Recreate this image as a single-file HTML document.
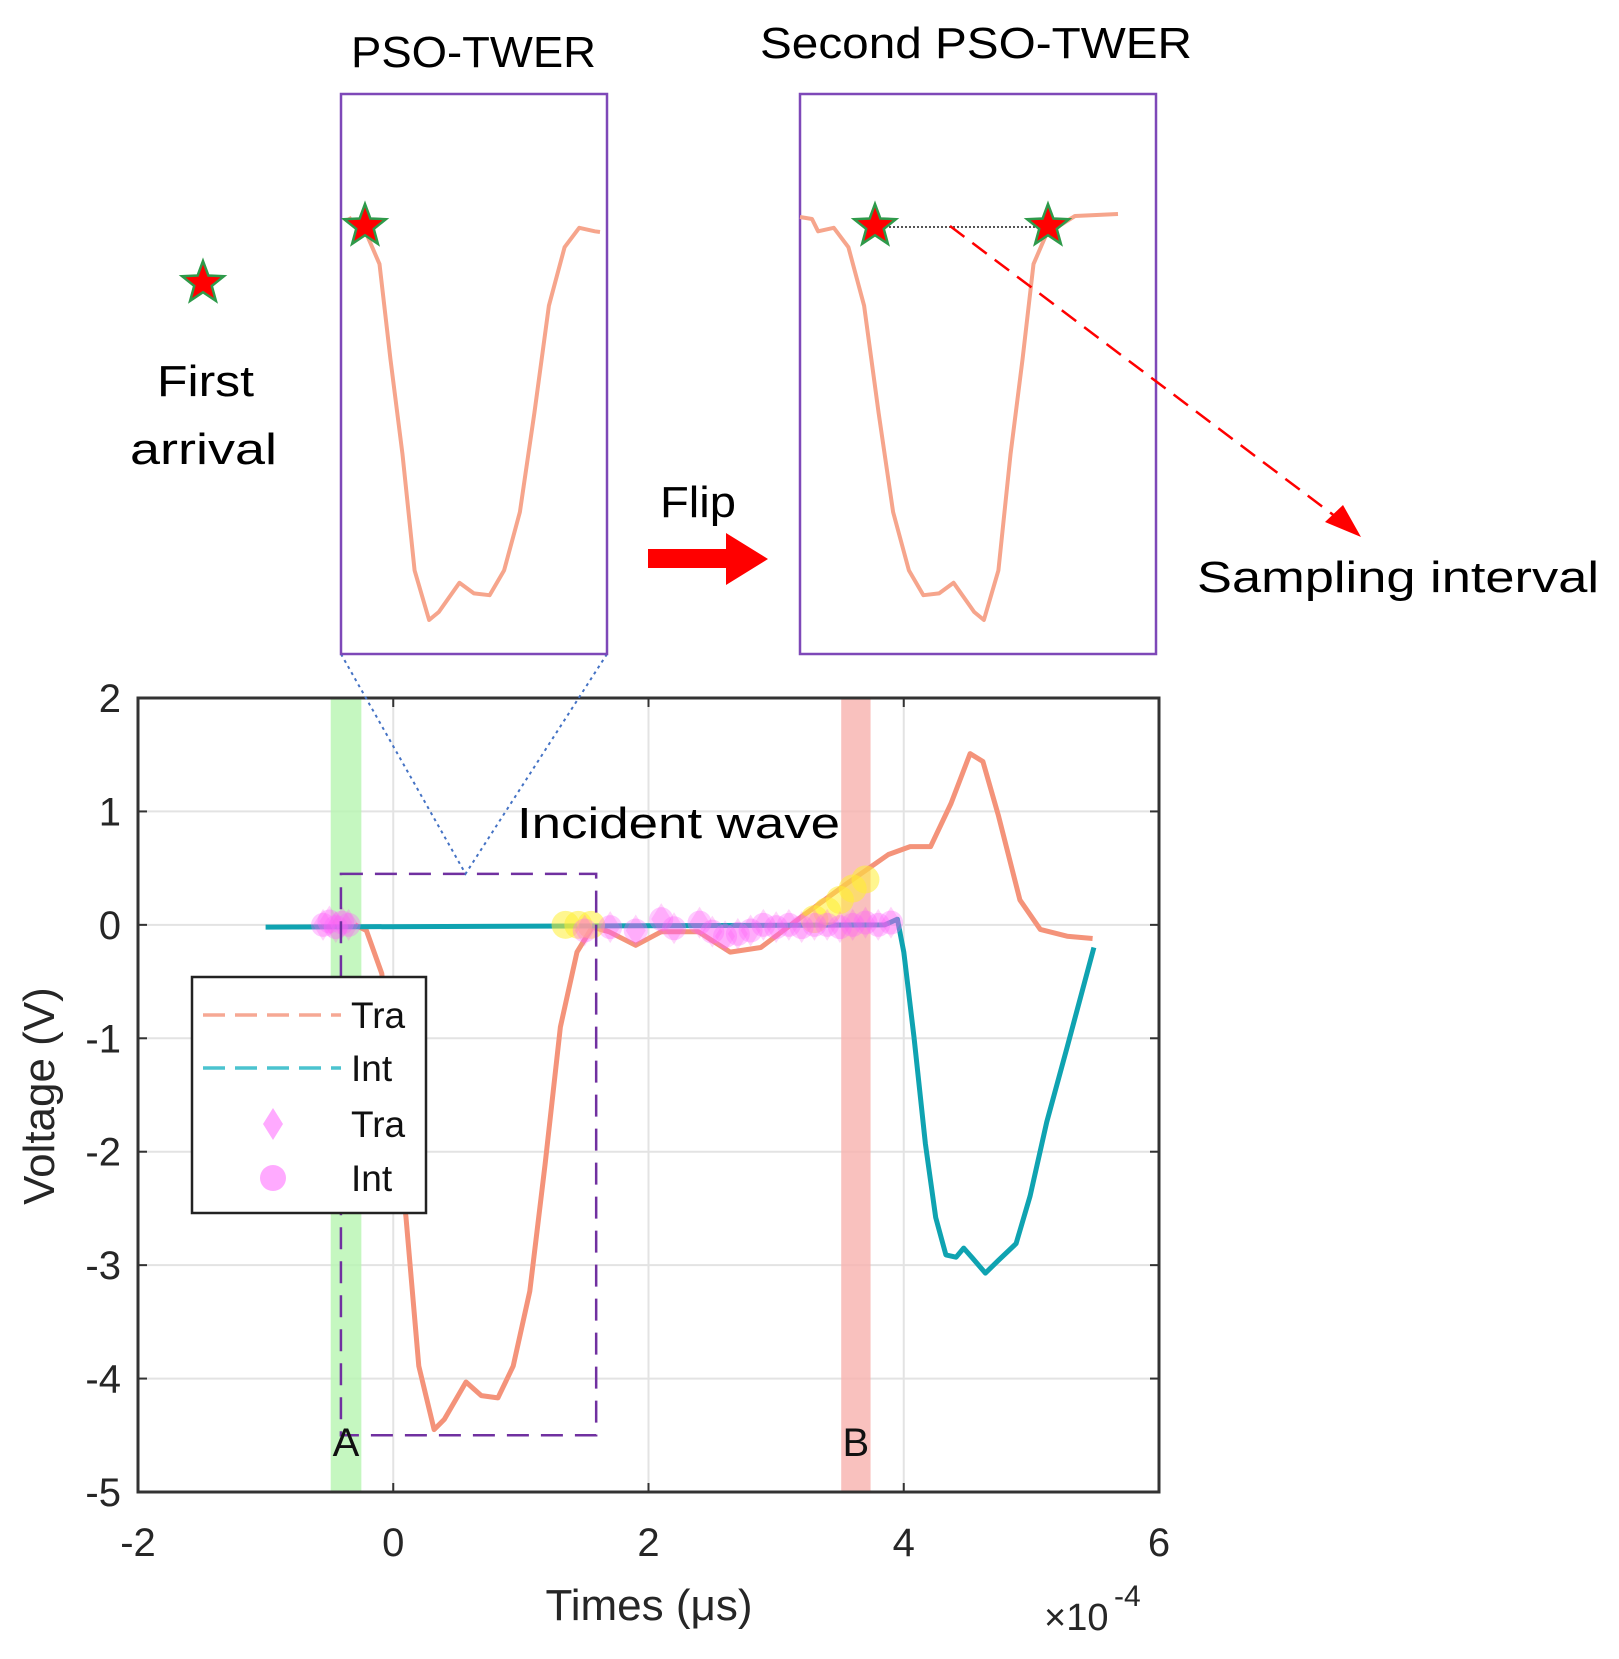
<!DOCTYPE html>
<html><head><meta charset="utf-8"><style>
html,body{margin:0;padding:0;background:#fff}
svg{display:block}
text{font-family:"Liberation Sans",sans-serif}
</style></head><body>
<svg id="chart" width="1619" height="1659" viewBox="0 0 1619 1659" xmlns="http://www.w3.org/2000/svg">
<g id="plot-layer"></g>
<g id="ann-layer"></g>
</svg>
<script>
// ===== Data =====
const xTicks = [-2, 0, 2, 4, 6];
const yTicks = [2, 1, 0, -1, -2, -3, -4, -5];
const traX = [-0.3,-0.21,-0.09,0.0,0.1,0.2,0.32,0.4,0.57,0.69,0.82,0.94,1.07,1.19,1.31,1.44,1.56,1.69,1.9,2.1,2.39,2.64,2.88,3.21,3.55,3.88,4.05,4.21,4.37,4.52,4.62,4.74,4.91,5.07,5.28,5.48];
const traY = [0,-0.05,-0.43,-1.5,-2.58,-3.89,-4.45,-4.36,-4.03,-4.15,-4.17,-3.89,-3.23,-2.11,-0.9,-0.24,-0.02,-0.06,-0.18,-0.06,-0.06,-0.24,-0.2,0.08,0.36,0.62,0.69,0.69,1.07,1.51,1.44,0.97,0.22,-0.04,-0.1,-0.12];
const intX = [-1.0,3.85,3.95,4.0,4.08,4.17,4.25,4.33,4.41,4.47,4.54,4.64,4.74,4.88,4.99,5.12,5.28,5.49];
const intY = [-0.02,0.0,0.05,-0.24,-0.99,-1.93,-2.58,-2.91,-2.93,-2.85,-2.94,-3.07,-2.96,-2.81,-2.39,-1.74,-1.08,-0.2];
const markX = [-0.55,-0.5,-0.45,-0.4,-0.35,1.5,1.7,1.9,2.1,2.2,2.4,2.5,2.6,2.7,2.8,2.9,3.0,3.1,3.2,3.3,3.4,3.5,3.6,3.7,3.8,3.9];
const markY = [0.0,0.03,-0.02,0.02,0.0,-0.05,-0.02,-0.05,0.05,-0.03,0.02,-0.06,-0.1,-0.08,-0.05,0.0,-0.02,0.0,-0.02,0.0,0.0,-0.02,0.0,0.02,0.0,0.02];
const yelX = [1.35,1.45,1.55,3.3,3.4,3.5,3.6,3.7];
const yelY = [0.0,0.0,0.0,0.05,0.12,0.22,0.32,0.4];
const bandA = [-0.49,-0.25];
const bandB = [3.51,3.74];
const zoomBox = [-0.41,1.59,0.45,-4.5];

const X0=138,X1=1159,Y0=698,Y1=1492;
const sx=v=>X0+(v+2)/8*(X1-X0);
const sy=v=>Y0+(2-v)/7*(Y1-Y0);
const NS="http://www.w3.org/2000/svg";
const P=document.getElementById('plot-layer');
const A=document.getElementById('ann-layer');
function mk(tag,attrs,parent,txt){const e=document.createElementNS(NS,tag);for(const k in attrs)e.setAttribute(k,attrs[k]);if(txt!==undefined)e.textContent=txt;(parent||P).appendChild(e);return e;}

let e;
e=mk('rect',{x:X0,y:Y0,width:X1-X0,height:Y1-Y0,fill:'#fff'});


xTicks.forEach(t=>{
  e=mk('line',{x1:sx(t),x2:sx(t),y1:Y0,y2:Y1,stroke:'#e3e3e3','stroke-width':2});
  
  
  e=mk('text',{x:sx(t),y:1556,'font-size':40,fill:'#262626','text-anchor':'middle'},P,String(t));
  
  
});
yTicks.forEach(t=>{
  e=mk('line',{x1:X0,x2:X1,y1:sy(t),y2:sy(t),stroke:'#e3e3e3','stroke-width':2});
  
  
  e=mk('text',{x:121,y:sy(t)+14,'font-size':40,fill:'#262626','text-anchor':'end'},P,String(t));
  
  
});
e=mk('rect',{x:sx(bandA[0]),y:Y0,width:sx(bandA[1])-sx(bandA[0]),height:Y1-Y0,fill:'#b6f5b0',opacity:0.8});


e=mk('rect',{x:sx(bandB[0]),y:Y0,width:sx(bandB[1])-sx(bandB[0]),height:Y1-Y0,fill:'#f7b2ae',opacity:0.8});


e=mk('rect',{x:X0,y:Y0,width:X1-X0,height:Y1-Y0,fill:'none',stroke:'#333','stroke-width':3});


xTicks.forEach(t=>{mk('line',{x1:sx(t),x2:sx(t),y1:Y1,y2:Y1-9,stroke:'#333','stroke-width':2});mk('line',{x1:sx(t),x2:sx(t),y1:Y0,y2:Y0+9,stroke:'#333','stroke-width':2});});
yTicks.forEach(t=>{mk('line',{x1:X0,x2:X0+9,y1:sy(t),y2:sy(t),stroke:'#333','stroke-width':2});mk('line',{x1:X1,x2:X1-9,y1:sy(t),y2:sy(t),stroke:'#333','stroke-width':2});});
function pts(xs,ys){return xs.map((x,i)=>sx(x).toFixed(1)+','+sy(ys[i]).toFixed(1)).join(' ');}
e=mk('polyline',{points:pts(traX,traY),fill:'none',stroke:'#f4937a','stroke-width':5,'stroke-linejoin':'round'});


e=mk('polyline',{points:pts(intX,intY),fill:'none',stroke:'#0fa3b1','stroke-width':5,'stroke-linejoin':'round'});


yelX.forEach((x,i)=>{
  e=mk('circle',{cx:sx(x),cy:sy(yelY[i]),r:14,fill:'#ffee33',opacity:0.55});
  
  
});
markX.forEach((x,i)=>{
  e=mk('circle',{cx:sx(x),cy:sy(markY[i]),r:12,fill:'#ff66ff',opacity:0.35});
  
  
  e=mk('path',{d:`M${sx(x)},${sy(markY[i])-16} l10,16 l-10,16 l-10,-16z`,fill:'#ff55ee',opacity:0.25});
  
  
});
e=mk('rect',{x:sx(zoomBox[0]),y:sy(zoomBox[2]),width:sx(zoomBox[1])-sx(zoomBox[0]),height:sy(zoomBox[3])-sy(zoomBox[2]),fill:'none',stroke:'#7030a0','stroke-width':2.5,'stroke-dasharray':'22 12'});


const apx=(sx(zoomBox[0])+sx(zoomBox[1]))/2-3, apy=sy(zoomBox[2]);
e=mk('polyline',{points:`341,654 ${apx},${apy} 607,654`,fill:'none',stroke:'#4472c4','stroke-width':2,'stroke-dasharray':'3 4'});


e=mk('text',{x:(sx(bandA[0])+sx(bandA[1]))/2,y:1456,'font-size':40,fill:'#111','text-anchor':'middle'},P,'A');


e=mk('text',{x:(sx(bandB[0])+sx(bandB[1]))/2,y:1456,'font-size':40,fill:'#111','text-anchor':'middle'},P,'B');


const lg=mk('g',{});


mk('rect',{x:192,y:977,width:234,height:236,fill:'#fff',stroke:'#222','stroke-width':2.5},lg);
const legNames=['Tra','Int','Tra','Int'];
const legY=[1015,1068,1124,1178];
legNames.forEach((n,i)=>{
  const y=legY[i];
  if(i===0){e=mk('line',{x1:203,x2:341,y1:y,y2:y,stroke:'#f4937a','stroke-width':3.5,'stroke-dasharray':'22 10',opacity:0.8},lg);}
  if(i===1){e=mk('line',{x1:203,x2:341,y1:y,y2:y,stroke:'#1fb5c4','stroke-width':3.5,'stroke-dasharray':'22 10',opacity:0.8},lg);}
  if(i===2){e=mk('path',{d:`M273,${y-16} l10,16 l-10,16 l-10,-16z`,fill:'#ffaaff'},lg);}
  if(i===3){e=mk('circle',{cx:273,cy:y,r:13,fill:'#ffaaff'},lg);}
  
  
  e=mk('text',{x:351,y:y+13,'font-size':37,fill:'#111'},lg,n);
  
  
});
e=mk('text',{x:649,y:1620,'font-size':44,fill:'#262626','text-anchor':'middle'},P,'Times (μs)');


e=mk('text',{x:1044,y:1630,'font-size':38,fill:'#262626'},P,'×10');


e=mk('text',{x:1114,y:1606,'font-size':30,fill:'#262626'},P,'-4');


e=mk('text',{x:54,y:1096,'font-size':44,fill:'#262626','text-anchor':'middle',transform:'rotate(-90 54 1096)'},P,'Voltage (V)');



function star(cx,cy,r,name){
  let d='';for(let k=0;k<10;k++){const rr=k%2?r*0.42:r;const a=-Math.PI/2+k*Math.PI/5;d+=(k?'L':'M')+(cx+rr*Math.cos(a)).toFixed(1)+','+(cy+rr*Math.sin(a)).toFixed(1);}
  const s=mk('path',{d:d+'Z',fill:'#ff0000',stroke:'#2e9a4a','stroke-width':2.5},A);
  
  
}
const insetY=v=>226+(-v)/4.45*394;
const in1X=x=>365+(x+0.21)*121;
e=mk('rect',{x:341,y:94,width:266,height:560,fill:'#fff',stroke:'#7e48b8','stroke-width':2.5},A);


const inIdx=traX.map((x,i)=>i).filter(i=>traX[i]>=-0.3&&traX[i]<=1.7);
let p1=inIdx.map(i=>in1X(traX[i]).toFixed(1)+','+insetY(traY[i]).toFixed(1)).join(' ');
e=mk('polyline',{points:'349,217 '+p1+' 600,232',fill:'none',stroke:'#f6a58c','stroke-width':4,'stroke-linejoin':'round'},A);


e=mk('rect',{x:800,y:94,width:356,height:560,fill:'#fff',stroke:'#7e48b8','stroke-width':2.5},A);


let p2=inIdx.slice().reverse().map(i=>(1413-in1X(traX[i])).toFixed(1)+','+insetY(traY[i]).toFixed(1)).join(' ');
e=mk('polyline',{points:'800,217 812,219 '+p2+' 1075,216 1118,214',fill:'none',stroke:'#f6a58c','stroke-width':4,'stroke-linejoin':'round'},A);


e=mk('line',{x1:885,y1:227,x2:1040,y2:227,stroke:'#555','stroke-width':2,'stroke-dasharray':'2 2'},A);


star(365,226,22,'first-arrival-star');
star(875,226,22,'start-star');
star(1048,226,22,'end-star');
star(203,283,22,'legend-star');
e=mk('line',{x1:950,y1:226,x2:1340,y2:520,stroke:'#f00','stroke-width':2.5,'stroke-dasharray':'18 10'},A);


e=mk('path',{d:'M1361,537 L1325,522 L1343,505 Z',fill:'#f00'},A);


e=mk('path',{d:'M648,549 L726,549 L726,533 L768,559 L726,585 L726,568 L648,568 Z',fill:'#f00'},A);


function T(txt,x,y,len,name){const t=mk('text',{x:x,y:y,'font-size':44,fill:'#000',textLength:len,lengthAdjust:'spacingAndGlyphs'},A,txt);}
T('PSO-TWER',351,67,245,'inset-title-1');
T('Second PSO-TWER',760,58,432,'inset-title-2');
T('First',157,396,97,'first-label');
T('arrival',130,464,147,'arrival-label');
T('Flip',660,517,76,'flip-label');
T('Sampling interval',1197,592,402,'sampling-interval-label');
T('Incident wave',517,838,323,'incident-wave-label');
</script>
</body></html>
